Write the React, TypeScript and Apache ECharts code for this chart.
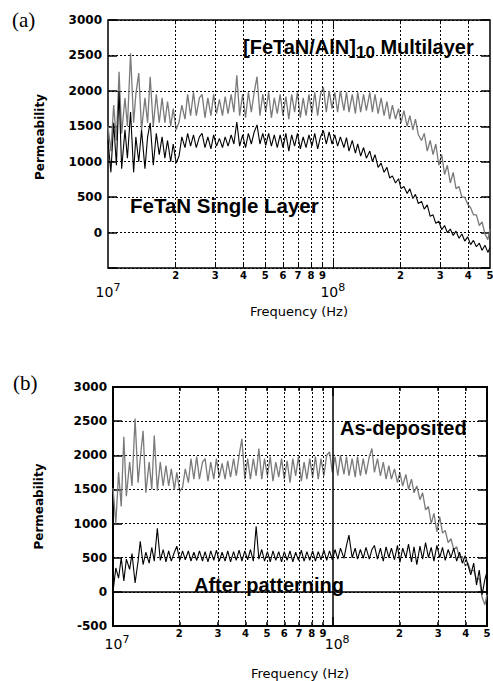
import React, { useEffect, useRef } from 'react';
import * as echarts from 'echarts';

// Frequencies in MHz
const freqMHz = [
  10, 10.3, 10.6, 10.9, 11.2, 11.5, 11.9, 12.2, 12.6, 13.0,
  13.3, 13.7, 14.1, 14.6, 15.0, 15.4, 15.9, 16.4, 16.9, 17.4,
  17.9, 18.4, 19.0, 19.5, 20.1, 20.7, 21.3, 22.0, 22.6, 23.3,
  24.0, 24.7, 25.5, 26.2, 27.0, 27.8, 28.7, 29.5, 30.4, 31.3,
  32.3, 33.2, 34.2, 35.3, 36.3, 37.4, 38.5, 39.7, 40.9, 42.1,
  43.4, 44.7, 46.0, 47.4, 48.8, 50.3, 51.8, 53.3, 54.9, 56.6,
  58.3, 60.0, 61.8, 63.7, 65.6, 67.6, 69.6, 71.7, 73.8, 76.0,
  78.3, 80.7, 83.1, 85.6, 88.1, 90.8, 93.5, 96.3, 99.2, 102,
  105, 108, 112, 115, 118, 122, 126, 129, 133, 137,
  141, 146, 150, 154, 159, 164, 169, 174, 179, 184,
  190, 196, 201, 207, 214, 220, 227, 233, 240, 248,
  255, 263, 271, 279, 287, 296, 305, 314, 323, 333,
  343, 353, 364, 375, 386, 398, 410, 422, 435, 448,
  461, 475, 489, 500,
];

// (a) [FeTaN/AlN]10 multilayer
const multilayerA = [
  1500, 1150, 1800, 1300, 2270, 1400, 1900, 1500, 2530, 1550,
  1950, 2250, 1450, 1900, 1550, 2200, 1500, 1950, 1550, 1900,
  1550, 1850, 1500, 1750, 1450, 1560, 1800, 1600, 1950, 1650,
  1980, 1650, 1900, 1950, 1620, 1900, 1650, 1950, 1680, 1880,
  1650, 1920, 1680, 1950, 1700, 2220, 1650, 1950, 1620, 1980,
  1700, 1980, 2200, 1650, 1950, 1700, 1980, 1620, 1900, 1680,
  1950, 1650, 1920, 1600, 1950, 1700, 1980, 1620, 1900, 1650,
  1950, 1680, 1980, 1650, 1950, 2050, 1700, 2000, 1750, 1980,
  1700, 2000, 1720, 1980, 1700, 1950, 1680, 1980, 1700, 1950,
  1720, 1980, 1700, 1950, 1680, 1900, 1650, 1850, 1600, 1800,
  1600, 1750, 1550, 1720, 1500, 1650, 1450, 1600, 1380, 1300,
  1400, 1150, 1300, 1100, 1250, 950, 1100, 820, 950, 700,
  850, 620, 650, 500, 500, 400, 350, 250, 250, 100,
  150, -20, -100, 50,
];

// (a) FeTaN single layer
const singleLayerA = [
  1300, 850, 1550, 950, 2000, 900, 1450, 1050, 1700, 850,
  1350, 1000, 1450, 900, 1350, 1550, 950, 1400, 1100, 1350,
  1050, 1300, 1000, 1250, 980, 1080, 1350, 1200, 1400, 1220,
  1380, 1200, 1350, 1400, 1200, 1350, 1180, 1380, 1220, 1330,
  1200, 1350, 1220, 1380, 1250, 1560, 1220, 1380, 1200, 1400,
  1250, 1420, 1520, 1250, 1400, 1230, 1400, 1220, 1380, 1200,
  1380, 1200, 1400, 1150, 1380, 1220, 1400, 1180, 1350, 1200,
  1380, 1220, 1400, 1180, 1350, 1440, 1250, 1420, 1250, 1380,
  1220, 1350, 1200, 1340, 1150, 1300, 1120, 1250, 1080, 1200,
  1050, 1150, 1000, 1100, 920, 980, 850, 920, 770, 800,
  700, 760, 620, 650, 550, 620, 480, 540, 410, 440,
  330, 390, 230, 250, 130, 160, 40, 100, 0, 50,
  -40, 20, -80, -20, -120, -60, -170, -110, -200, -150,
  -250, -180, -280, -210,
];

// (b) as-deposited
const asDepositedB = [
  1520, 1000, 1750, 1250, 2270, 1400, 1900, 1550, 2540, 1600,
  1950, 2360, 1450, 1900, 1500, 2290, 1480, 1900, 1550, 1850,
  1550, 1800, 1500, 1750, 1470, 1530, 1800, 1600, 1950, 1650,
  1980, 1650, 1900, 1950, 1620, 1900, 1650, 1950, 1680, 1880,
  1650, 1920, 1680, 1950, 1700, 2000, 2240, 1650, 1950, 1650,
  1950, 1700, 2100, 1650, 1950, 1700, 1980, 1620, 1900, 1680,
  1950, 1650, 1920, 1600, 1950, 1700, 1980, 1620, 1900, 1650,
  1950, 1680, 1980, 1650, 1950, 1700, 2000, 2050, 1750, 1980,
  1700, 2000, 1720, 1980, 1700, 1950, 1680, 1980, 1700, 1950,
  1720, 1980, 2100, 1750, 1950, 1700, 1900, 1650, 1850, 1650,
  1800, 1600, 1750, 1550, 1720, 1500, 1650, 1450, 1550, 1350,
  1450, 1200, 1250, 1000, 1150, 880, 1100, 860, 900, 720,
  780, 620, 660, 500, 520, 380, 420, 300, 320, 180,
  200, -80, -190, -40,
];

// (b) after patterning
const afterPatterningB = [
  0, 350, 200, 500, 160, 480, 330, 560, 130, 450,
  740, 400, 580, 420, 650, 450, 930, 460, 620, 440,
  600, 450, 580, 670, 460, 600, 470, 600, 450, 580,
  460, 600, 450, 590, 440, 600, 460, 610, 450, 580,
  450, 600, 440, 590, 460, 610, 450, 600, 470, 620,
  450, 960, 480, 620, 450, 590, 440, 600, 460, 590,
  440, 590, 460, 600, 440, 580, 460, 610, 450, 590,
  460, 600, 450, 590, 470, 610, 460, 600, 470, 620,
  480, 640, 490, 680, 830, 500, 640, 480, 620, 490,
  650, 480, 620, 680, 480, 640, 450, 660, 500, 640,
  470, 680, 430, 640, 500, 700, 440, 660, 400, 670,
  480, 720, 500, 650, 450, 680, 500, 650, 460, 620,
  500, 640, 450, 580, 420, 530, 390, 250, 420, 100,
  320, -40, 180, 300,
];

const minorFreqs = [2e7, 3e7, 4e7, 5e7, 6e7, 7e7, 8e7, 9e7, 2e8, 3e8, 4e8, 5e8];
const minorLabels = ['2', '3', '4', '5', '6', '7', '8', '9', '2', '3', '4', '5'];
const majorFreq = 1e8;
const yMin = -500;
const yMax = 3000;
const yStep = 500;

const SANS = '"DejaVu Sans", sans-serif';
const ARIAL = '"Liberation Sans", Arial, sans-serif';
const SERIF = '"Liberation Serif", "Times New Roman", serif';

function pairs(vals: number[]) {
  return freqMHz.map((f, i) => [f * 1e6, vals[i]]);
}

function isPow10(v: number) {
  const l = Math.log10(v);
  return Math.abs(l - Math.round(l)) < 1e-6;
}

function xAxisFor(grid: number, margin: number, nameGap: number, padLeft: number) {
  return {
    type: 'log',
    logBase: 10,
    gridIndex: grid,
    min: 1e7,
    max: 5e8,
    axisLine: { show: false },
    axisTick: { show: false },
    splitLine: { show: false },
    minorTick: { show: false },
    axisLabel: {
      margin,
      formatter: (v: number) => (isPow10(v) ? `{b|10}{s|${Math.round(Math.log10(v))}}` : ''),
      rich: {
        b: { fontSize: 14, lineHeight: 16, fontFamily: SANS, color: '#000', padding: [0, 0, 0, padLeft] },
        s: { fontSize: 11, lineHeight: 12, fontFamily: SANS, color: '#000', padding: [0, 0, 10, 0] },
      },
    },
    name: 'Frequency (Hz)',
    nameLocation: 'middle',
    nameGap,
    nameTextStyle: { fontFamily: SANS, fontSize: 13, color: '#000' },
  };
}

function yAxisFor(grid: number, right: boolean, hideMin: boolean, nameGap: number, namePad: number[]) {
  return {
    type: 'value',
    gridIndex: grid,
    position: right ? 'right' : 'left',
    min: yMin,
    max: yMax,
    interval: yStep,
    axisLine: { show: false },
    axisTick: { show: true, inside: true, length: 9, lineStyle: { color: '#000', width: 1.5 } },
    splitLine: right
      ? { show: false }
      : { show: true, lineStyle: { color: '#000', width: 1, type: [2, 2] } },
    axisLabel: right
      ? { show: false }
      : {
          margin: 6,
          fontFamily: SANS,
          fontWeight: 'bold',
          fontSize: 12,
          color: '#000',
          formatter: (v: number) => (hideMin && v === yMin ? '' : String(v)),
        },
    name: right ? '' : 'Permeability',
    nameLocation: 'middle',
    nameRotate: 90,
    nameGap,
    nameTextStyle: { fontFamily: SANS, fontWeight: 'bold', fontSize: 12, color: '#000', padding: namePad },
  };
}

function gridLines(solidMajor: boolean) {
  const data: any[] = minorFreqs.slice(0, minorFreqs.length - 1).map((f, i) => ({
    xAxis: f,
    name: minorLabels[i],
  }));
  data.push({
    xAxis: minorFreqs[minorFreqs.length - 1],
    name: minorLabels[minorLabels.length - 1],
    lineStyle: { color: 'rgba(0,0,0,0)' },
  });
  data.push({
    xAxis: majorFreq,
    name: '',
    label: { show: false },
    lineStyle: solidMajor ? { type: 'solid', width: 1.5 } : {},
  });
  if (solidMajor) data.push({ yAxis: 0, name: '', label: { show: false }, lineStyle: { type: 'solid', width: 1.5 } });
  return {
    silent: true,
    symbol: ['none', 'none'],
    animation: false,
    lineStyle: { color: '#000', width: 1, type: [2, 2] },
    label: {
      show: true,
      position: 'start',
      distance: 2,
      formatter: '{b}',
      color: '#000',
      fontFamily: SANS,
      fontWeight: 'bold',
      fontSize: 10,
      lineHeight: 10,
    },
    emphasis: { disabled: true },
    data,
  };
}

function tickMarks(width: number) {
  const data: any[] = [];
  minorFreqs.slice(0, minorFreqs.length - 1).forEach((f) => {
    data.push([{ coord: [f, yMin] }, { coord: [f, yMin + 60] }]);
    data.push([{ coord: [f, yMax] }, { coord: [f, yMax - 60] }]);
  });
  data.push([{ coord: [majorFreq, yMin] }, { coord: [majorFreq, yMin + 130] }]);
  data.push([{ coord: [majorFreq, yMax] }, { coord: [majorFreq, yMax - 130] }]);
  return {
    silent: true,
    symbol: ['none', 'none'],
    animation: false,
    lineStyle: { color: '#000', width, type: 'solid' },
    label: { show: false },
    emphasis: { disabled: true },
    data,
  };
}

export default function App() {
  const ref = useRef<HTMLDivElement>(null);
  useEffect(() => {
    if (!ref.current) return;
    const chart = echarts.init(ref.current, undefined, { renderer: 'svg' });
    const option: any = {
      animation: false,
      backgroundColor: '#fff',
      grid: [
        { left: 108, top: 20, width: 384, height: 248, show: true, borderColor: '#000', borderWidth: 1.5, backgroundColor: 'transparent' },
        { left: 113, top: 387, width: 374, height: 240, show: true, borderColor: '#000', borderWidth: 2, backgroundColor: 'transparent' },
      ],
      xAxis: [xAxisFor(0, 16, 37, 0), xAxisFor(1, 10, 41, 8)],
      yAxis: [
        yAxisFor(0, false, true, 62, [0, 0, 0, 14]),
        yAxisFor(1, false, false, 68, [0, 0, 0, 0]),
        yAxisFor(0, true, false, 0, [0, 0, 0, 0]),
        yAxisFor(1, true, false, 0, [0, 0, 0, 0]),
      ],
      series: [
        {
          name: '[FeTaN/AlN]10 Multilayer',
          type: 'line',
          xAxisIndex: 0,
          yAxisIndex: 0,
          data: pairs(multilayerA),
          showSymbol: false,
          symbol: 'none',
          lineStyle: { color: '#7a7a7a', width: 1.3 },
          markLine: gridLines(false),
          z: 2,
        },
        {
          name: 'FeTaN Single Layer',
          type: 'line',
          xAxisIndex: 0,
          yAxisIndex: 0,
          data: pairs(singleLayerA),
          showSymbol: false,
          symbol: 'none',
          lineStyle: { color: '#000', width: 1.1 },
          markLine: tickMarks(1),
          z: 3,
        },
        {
          name: 'As-deposited',
          type: 'line',
          xAxisIndex: 1,
          yAxisIndex: 1,
          data: pairs(asDepositedB),
          showSymbol: false,
          symbol: 'none',
          lineStyle: { color: '#7a7a7a', width: 1.3 },
          markLine: gridLines(true),
          z: 2,
        },
        {
          name: 'After patterning',
          type: 'line',
          xAxisIndex: 1,
          yAxisIndex: 1,
          data: pairs(afterPatterningB),
          showSymbol: false,
          symbol: 'none',
          lineStyle: { color: '#000', width: 1.1 },
          markLine: tickMarks(1.5),
          z: 3,
        },
      ],
      graphic: [
        { type: 'text', x: 12, y: 20, style: { text: '(a)', fontFamily: SERIF, fontSize: 21, fill: '#000', align: 'left', verticalAlign: 'middle', textAlign: 'left', textVerticalAlign: 'middle' } },
        { type: 'text', x: 13, y: 383, style: { text: '(b)', fontFamily: SERIF, fontSize: 21, fill: '#000', align: 'left', verticalAlign: 'middle', textAlign: 'left', textVerticalAlign: 'middle' } },
        {
          type: 'text', x: 243, y: 46.5,
          style: {
            text: '{a|[FeTaN/AlN]}{s|10}{a| Multilayer}',
            fill: '#000', align: 'left', verticalAlign: 'middle', textAlign: 'left', textVerticalAlign: 'middle',
            rich: {
              a: { fontFamily: ARIAL, fontWeight: 'bold', fontSize: 20, lineHeight: 24, fill: '#000' },
              s: { fontFamily: ARIAL, fontWeight: 'bold', fontSize: 17, lineHeight: 20, padding: [12, 0, 0, 0], fill: '#000' },
            },
          },
        },
        { type: 'text', x: 130, y: 205, style: { text: 'FeTaN Single Layer', fontFamily: ARIAL, fontWeight: 'bold', fontSize: 20.5, fill: '#000', align: 'left', verticalAlign: 'middle', textAlign: 'left', textVerticalAlign: 'middle' } },
        { type: 'text', x: 340, y: 428, style: { text: 'As-deposited', fontFamily: ARIAL, fontWeight: 'bold', fontSize: 20, fill: '#000', align: 'left', verticalAlign: 'middle', textAlign: 'left', textVerticalAlign: 'middle' } },
        { type: 'text', x: 194, y: 585, style: { text: 'After patterning', fontFamily: ARIAL, fontWeight: 'bold', fontSize: 20, fill: '#000', align: 'left', verticalAlign: 'middle', textAlign: 'left', textVerticalAlign: 'middle' } },
      ],
    };
    chart.setOption(option);
    return () => chart.dispose();
  }, []);
  return <div ref={ref} style={{ position: 'absolute', left: 0, top: 0, width: 493, height: 681 }} />;
}
